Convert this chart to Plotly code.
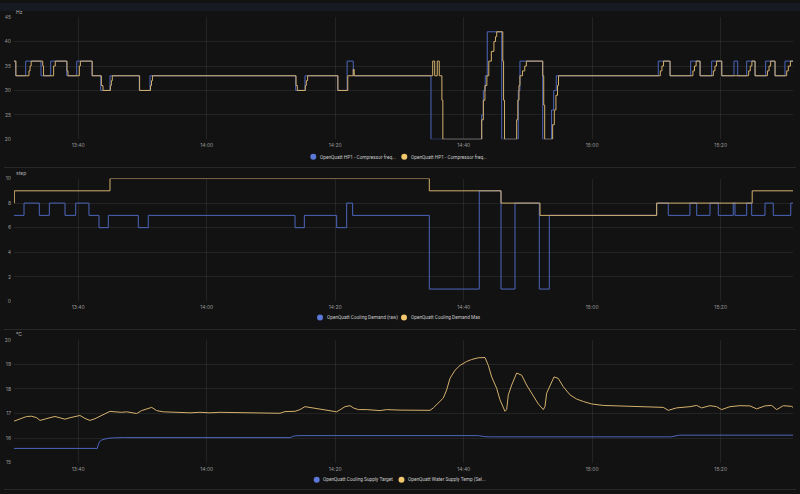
import plotly.graph_objects as go
import pandas as pd

START = pd.Timestamp("2025-06-15 13:30:00")
END_MIN = 121.25

# ---- Panel 1: compressor frequency (Hz) ----
FREQ_TARGET_MIN = [0, 0.25, 1.82, 4.20, 5.71, 8.20, 9.76, 12.14, 13.49, 14.94, 19.50, 21.17,
                   43.84, 45.29, 50.38, 51.85, 52.81, 64.90, 72.79, 73.05, 73.35, 73.66, 75.91,
                   78.49, 78.75, 82.29, 83.67, 84.0, 84.4, 100.28, 102.10, 105.32, 106.77,
                   108.59, 110.15, 112.06, 112.64, 114.04, 115.33, 116.99, 118.44, 120.0, 121.25]
FREQ_TARGET_HZ = [36, 33, 36, 33, 36, 33, 36, 33, 30, 33, 30, 33,
                  30, 33, 30, 36, 33, 20, 25, 30, 33, 42, 20,
                  30, 36, 20, 26, 30, 33, 36, 33, 36, 33,
                  36, 33, 36, 33, 36, 33, 36, 33, 36, 36]

FREQ_ACTUAL_MIN = [0, 0.3, 2.33, 2.5, 2.67, 4.47, 4.6, 6.17, 6.42, 8.25, 8.4, 10.17, 10.33,
                   12.17, 13.6, 13.85, 15.0, 15.15, 15.3, 19.55, 21.25, 21.4, 21.55,
                   43.9, 44.1, 45.35, 45.5, 45.7, 50.42, 51.95, 52.8, 52.95,
                   65.17, 65.48, 65.88, 66.19, 66.6, 66.75,
                   72.8, 73.05, 73.3, 73.6, 73.9, 74.3, 74.7, 74.95, 75.13, 76.08, 76.2, 76.35,
                   78.24, 78.42, 78.6, 78.75, 79.15, 79.5, 79.75, 82.3, 82.45, 82.6,
                   83.84, 84.1, 84.35, 84.6, 84.75,
                   100.6, 100.85, 101.1, 102.12, 105.67, 105.92, 106.17, 106.79,
                   108.85, 109.1, 109.35, 110.17, 114.35, 114.6, 114.85, 115.35,
                   117.27, 117.52, 117.77, 118.46, 120.27, 120.52, 120.85, 121.25]
FREQ_ACTUAL_HZ = [36, 33, 34, 35, 36, 35, 33, 35, 36, 34, 33, 35, 36,
                  33, 31, 30, 31, 32, 33, 30, 31, 32, 33,
                  31, 30, 31, 32, 33, 30, 33, 34.3, 33,
                  36, 33, 36, 33, 28, 20,
                  24, 28, 31, 33, 36, 38, 40, 41, 42, 36, 28, 20,
                  24, 28, 31, 33, 34, 35, 36, 33, 27, 20,
                  23, 26, 29, 31, 33,
                  34, 35, 36, 33, 34, 35, 36, 33,
                  34, 35, 36, 33, 34, 35, 36, 33,
                  34, 35, 36, 33, 34, 35, 36, 36]

# ---- Panel 2: cooling demand (step) ----
DEMAND_RAW_MIN = [0, 1.56, 3.94, 5.5, 7.94, 9.6, 11.67, 13.23, 14.68, 19.35, 20.9, 43.74, 45.19,
                  50.22, 51.78, 52.71, 64.64, 72.42, 75.8, 77.98, 81.76, 83.32, 100.03, 101.84,
                  105.21, 106.26, 108.33, 109.62, 111.95, 112.22, 114.04, 114.82, 116.89, 118.18,
                  120.9, 121.25]
DEMAND_RAW = [7, 8, 7, 8, 7, 8, 7, 6, 7, 6, 7, 6, 7,
              6, 8, 7, 1, 9, 1, 8, 1, 7, 8, 7,
              8, 7, 8, 7, 8, 7, 8, 7, 8, 7,
              8, 8]

DEMAND_MAX_MIN = [0, 0.05, 14.94, 64.64, 75.8, 81.87, 100.03, 114.9, 121.25]
DEMAND_MAX = [8, 9, 10, 9, 8, 7, 8, 9, 9]

# ---- Panel 3: temperatures (°C) ----
SUPPLY_TARGET_MIN = [0, 12.97, 13.1, 13.3, 13.6, 14.0, 14.6, 15.5, 17, 43.0, 43.5, 44.2,
                     72.3, 73.2, 74.0, 102.2, 103.0, 103.6, 121.25]
SUPPLY_TARGET_C = [15.58, 15.58, 15.72, 15.84, 15.92, 15.96, 15.99, 16.01, 16.02, 16.02, 16.08, 16.1,
                   16.1, 16.06, 16.05, 16.05, 16.1, 16.12, 16.12]

WATER_TEMP_MIN = [0, 0.93, 1.97, 2.75, 3.53, 4.05, 4.82, 5.6, 6.38, 7.16, 7.94, 8.72, 9.49, 10.27,
                  11.05, 11.83, 12.61, 13.39, 14.16, 14.94, 15.72, 16.76, 17.54, 18.31, 19.09,
                  19.87, 20.65, 21.43, 22.2, 23.24, 27.39, 28.95, 30.5, 32.06, 41.4, 42.18,
                  43.74, 44.51, 45.29, 46.07, 47.11, 48.15, 49.7, 50.22, 50.74, 51.52, 52.3,
                  52.81, 53.59, 54.89, 56.96, 58.0, 60.08, 64.75, 65.27, 66.04, 66.82, 67.34,
                  67.86, 68.64, 69.42, 70.45, 71.23, 72.27, 73.31, 73.83, 74.35, 75.12, 75.64,
                  76.42, 76.68, 76.94, 77.46, 78.24, 79.02, 79.79, 80.83, 81.61, 82.39, 82.65,
                  82.91, 83.42, 84.05, 84.72, 85.5, 86.54, 87.57, 88.61, 89.91, 91.73, 93.8,
                  96.39, 98.47, 101.06, 101.84, 103.14, 105.21, 106.25, 107.03, 108.33, 109.36,
                  110.14, 111.44, 113.0, 114.55, 115.59, 116.89, 117.92, 118.71, 119.74, 121.04,
                  121.25]
WATER_TEMP_C = [16.69, 16.79, 16.88, 16.89, 16.83, 16.72, 16.76, 16.83, 16.88, 16.83, 16.77, 16.83,
                16.88, 16.92, 16.8, 16.72, 16.79, 16.88, 16.99, 17.09, 17.07, 17.05, 17.07, 17.03,
                17.0, 17.12, 17.2, 17.25, 17.12, 17.07, 17.03, 17.05, 17.03, 17.05, 17.01, 17.08,
                17.09, 17.16, 17.28, 17.25, 17.2, 17.16, 17.09, 17.07, 17.15, 17.28, 17.32,
                17.23, 17.16, 17.16, 17.12, 17.16, 17.14, 17.13, 17.23, 17.43, 17.63, 17.96,
                18.43, 18.76, 18.96, 19.12, 19.2, 19.27, 19.28, 18.96, 18.49, 18.03, 17.56,
                17.09, 17.16, 17.76, 18.16, 18.65, 18.56, 18.16, 17.69, 17.39, 17.16, 17.29,
                17.83, 18.16, 18.49, 18.43, 18.09, 17.76, 17.59, 17.49, 17.39, 17.33, 17.31,
                17.29, 17.29, 17.25, 17.13, 17.23, 17.28, 17.33, 17.23, 17.32, 17.28,
                17.16, 17.28, 17.32, 17.31, 17.19, 17.31, 17.33, 17.16, 17.32, 17.29,
                17.25]

LEGENDS = [
    ("OpenQuatt HP1 - Compressor freq...", "OpenQuatt HP1 - Compressor freq..."),
    ("OpenQuatt Cooling Demand (raw)", "OpenQuatt Cooling Demand Max"),
    ("OpenQuatt Cooling Supply Target", "OpenQuatt Water Supply Temp (Sel..."),
]
UNITS = ["Hz", "step", "°C"]

BLUE = "#4c66bb"
YELLOW = "#d4b06c"
BLUE_DOT = "#5b78d8"
YELLOW_DOT = "#f2c76e"
BG = "#121213"
GRID = "rgba(255,255,255,0.075)"
TICK = "#9a9a9a"
FONT = "Inter"
LEG_FONT = "Roboto"

W, H = 800, 494


def t(mins):
    return [START + pd.Timedelta(minutes=m) for m in mins]


def px(x):
    return x / W


def py(y):
    return 1 - y / H


fig = go.Figure()

series = [
    (FREQ_TARGET_MIN, FREQ_TARGET_HZ, BLUE, "hv", 1),
    (FREQ_ACTUAL_MIN, FREQ_ACTUAL_HZ, YELLOW, "hv", 1),
    (DEMAND_RAW_MIN, DEMAND_RAW, BLUE, "hv", 2),
    (DEMAND_MAX_MIN, DEMAND_MAX, YELLOW, "hv", 2),
    (SUPPLY_TARGET_MIN, SUPPLY_TARGET_C, BLUE, "linear", 3),
    (WATER_TEMP_MIN, WATER_TEMP_C, YELLOW, "linear", 3),
]
for mins, vals, col, shape, k in series:
    sfx = "" if k == 1 else str(k)
    fig.add_trace(go.Scatter(x=t(mins), y=vals, mode="lines",
                             line=dict(color=col, width=1.0, shape=shape),
                             xaxis="x" + sfx, yaxis="y" + sfx, showlegend=False,
                             hoverinfo="skip"))

# panel geometry in pixels: (y_top, y_bottom)
panels = [(14.3, 138.0), (177.7, 302.0), (341.0, 465.3)]
yranges = [[20, 45], [0, 10], [15, 20]]
ydticks = [5, 2, 1]
x0_px, x1_px = 14.0, 793.0

layout = dict(
    width=W, height=H, autosize=False,
    margin=dict(l=0, r=0, t=0, b=0, pad=0),
    paper_bgcolor=BG, plot_bgcolor=BG,
    font=dict(family=FONT, size=5, color=TICK),
    showlegend=False,
)
for i, ((yt, yb), yr, dt) in enumerate(zip(panels, yranges, ydticks)):
    sfx = "" if i == 0 else str(i + 1)
    layout["xaxis" + sfx] = dict(
        domain=[px(x0_px), px(x1_px)], anchor="y" + sfx,
        type="date", range=[START, START + pd.Timedelta(minutes=END_MIN)],
        tickformat="%H:%M", tick0=START + pd.Timedelta(minutes=10), dtick=20 * 60 * 1000,
        showgrid=True, gridcolor=GRID, gridwidth=1, zeroline=False, showline=False,
        ticks="", tickfont=dict(size=5, color=TICK, family=FONT), ticklabelstandoff=2,
    )
    layout["yaxis" + sfx] = dict(
        domain=[py(yb), py(yt)], anchor="x" + sfx, range=yr, dtick=dt, tick0=yr[0],
        showgrid=True, gridcolor=GRID, gridwidth=1, zeroline=False, showline=False,
        ticks="", tickfont=dict(size=5, color=TICK, family=FONT), ticklabelstandoff=2,
    )
fig.update_layout(**layout)

shapes = []
annotations = []
# header strip
shapes.append(dict(type="rect", xref="paper", yref="paper", x0=0, x1=1, y0=py(8), y1=1,
                   fillcolor="#151b21", line=dict(width=0), layer="below"))
# separators
for ys in [166.5, 330.5, 492.5]:
    shapes.append(dict(type="line", xref="paper", yref="paper", x0=px(4), x1=px(796),
                       y0=py(ys), y1=py(ys), line=dict(color="#2a2a2c", width=1)))

# unit labels
for (yt, yb), u in zip(panels, UNITS):
    annotations.append(dict(text=u, xref="paper", yref="paper", x=px(14), y=py(yt - 5.5),
                            xanchor="left", yanchor="middle", showarrow=False,
                            font=dict(size=5, color="#b0b0b0", family=FONT)))

# legends
legend_pos = [
    (155.7, 313.3, 404.3),
    (318.3, 320.0, 404.0),
    (482.7, 316.7, 401.5),
]
for (ly, bx, yx), (lb, lyl) in zip(legend_pos, LEGENDS):
    for cx, col, txt in [(bx, BLUE_DOT, lb), (yx, YELLOW_DOT, lyl)]:
        r = 3.0
        shapes.append(dict(type="circle", xref="paper", yref="paper",
                           x0=px(cx - r), x1=px(cx + r), y0=py(ly + r), y1=py(ly - r),
                           fillcolor=col, line=dict(width=0)))
        annotations.append(dict(text=txt, xref="paper", yref="paper", x=px(cx + 4.5), y=py(ly),
                                xanchor="left", yanchor="middle", showarrow=False,
                                font=dict(size=4.75, color="#c8c8c8", family=LEG_FONT)))

fig.update_layout(shapes=shapes, annotations=annotations)
fig.write_html("out.html")
